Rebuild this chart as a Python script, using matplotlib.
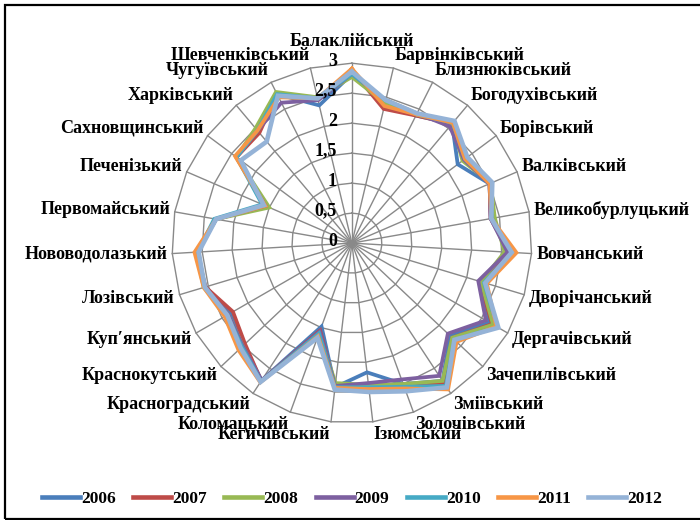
import numpy as np
import matplotlib
matplotlib.use("Agg")
import matplotlib.pyplot as plt
from matplotlib.transforms import offset_copy
from matplotlib.patches import Rectangle
from matplotlib.lines import Line2D

plt.rcParams['font.family'] = ['Liberation Serif', 'DejaVu Serif']
plt.rcParams['font.weight'] = 'bold'

# districts (clockwise from the top)
districts = ["Балаклійський", "Барвінківський", "Близнюківський", "Богодухівський",
             "Борівський", "Валківський", "Великобурлуцький", "Вовчанський",
             "Дворічанський", "Дергачівський", "Зачепилівський", "Зміївський",
             "Золочівський", "Ізюмський", "Кегичівський", "Коломацький",
             "Красноградський", "Краснокутський", "Куп\u2032янський", "Лозівський",
             "Нововодолазький", "Первомайський", "Печенізький", "Сахновщинський",
             "Харківський", "Чугуївський", "Шевченківський"]

years = ["2006", "2007", "2008", "2009", "2010", "2011", "2012"]

v2006 = [2.82, 2.40, 2.38, 2.60, 2.20, 2.50, 2.35, 2.65, 2.25, 2.65, 2.25, 2.75, 2.50, 2.17,
         2.42, 1.48, 2.74, 2.48, 2.33, 2.55, 2.58, 2.30, 1.57, 2.40, 2.45, 2.78, 2.36]
v2007 = [2.88, 2.30, 2.38, 2.60, 2.35, 2.50, 2.35, 2.62, 2.22, 2.70, 2.30, 2.80, 2.52, 2.40,
         2.42, 1.55, 2.75, 2.45, 2.29, 2.55, 2.60, 2.30, 1.57, 2.40, 2.40, 2.78, 2.45]
v2008 = [2.77, 2.40, 2.40, 2.60, 2.30, 2.52, 2.42, 2.55, 2.25, 2.72, 2.30, 2.75, 2.50, 2.38,
         2.35, 1.60, 2.76, 2.50, 2.38, 2.58, 2.60, 2.30, 1.50, 2.40, 2.50, 2.82, 2.50]
v2009 = [2.82, 2.45, 2.42, 2.54, 2.33, 2.50, 2.35, 2.60, 2.20, 2.58, 2.20, 2.65, 2.42, 2.35,
         2.40, 1.57, 2.74, 2.50, 2.38, 2.56, 2.60, 2.30, 1.57, 2.40, 2.45, 2.62, 2.45]
v2010 = [2.82, 2.45, 2.40, 2.62, 2.35, 2.52, 2.37, 2.68, 2.30, 2.80, 2.35, 2.85, 2.55, 2.42,
         2.42, 1.60, 2.76, 2.52, 2.40, 2.57, 2.58, 2.33, 1.63, 2.40, 2.45, 2.78, 2.48]
v2011 = [2.91, 2.35, 2.40, 2.62, 2.35, 2.50, 2.36, 2.75, 2.35, 2.78, 2.40, 2.92, 2.58, 2.45,
         2.43, 1.65, 2.78, 2.60, 2.45, 2.58, 2.63, 2.30, 1.57, 2.43, 2.45, 2.72, 2.48]
v2012 = [2.86, 2.45, 2.42, 2.66, 2.40, 2.55, 2.36, 2.67, 2.32, 2.82, 2.35, 2.88, 2.63, 2.50,
         2.46, 1.68, 2.77, 2.55, 2.40, 2.56, 2.56, 2.30, 1.60, 2.31, 2.21, 2.75, 2.48]

series = [v2006, v2007, v2008, v2009, v2010, v2011, v2012]
colors = ["#4a7ebb", "#be4b48", "#98b954", "#7d60a0", "#46aac5", "#f79646", "#95b3d7"]

ticks = [0, 0.5, 1, 1.5, 2, 2.5, 3]
tick_labels = ["0", "0,5", "1", "1,5", "2", "2,5", "3"]

n = len(districts)
ang = np.linspace(0, 2 * np.pi, n, endpoint=False)
ang_c = np.append(ang, ang[0])

fig = plt.figure(figsize=(7, 5.2), dpi=100)
ax = fig.add_axes([0.2457, 0.1865, 0.514, 0.692], projection='polar')
ax.set_theta_zero_location('N')
ax.set_theta_direction(-1)
ax.set_ylim(0, 3)
ax.grid(False)
ax.set_xticks([])
ax.set_yticks([])
ax.spines['polar'].set_visible(False)
ax.patch.set_alpha(0)

grid_c = "#898989"
# polygon rings and spokes
for t in ticks[1:]:
    ax.plot(ang_c, [t] * (n + 1), color=grid_c, lw=1.0, clip_on=False, zorder=1)
for a in ang:
    ax.plot([a, a], [0, 3], color=grid_c, lw=1.0, clip_on=False, zorder=1)

for vals, col, yr in zip(series, colors, years):
    lw = 3.3 if yr == "2012" else 2.7
    ax.plot(ang_c, vals + vals[:1], color=col, lw=lw, solid_joinstyle='miter',
            clip_on=False, zorder=3)

# value labels along the vertical axis
tr = offset_copy(ax.transData, fig=fig, x=-15, y=2, units='dots')
for t, lab in zip(ticks, tick_labels):
    ax.text(0, t, lab, transform=tr, ha='right', va='center', fontsize=13,
            fontweight='bold', zorder=5)

# district labels
for a, name in zip(ang, districts):
    s, c = np.sin(a), np.cos(a)
    if abs(s) < 0.05:
        ha = 'center'
        va = 'bottom' if c > 0 else 'top'
        dy = 8 if c > 0 else -4
    else:
        ha = 'left' if s > 0 else 'right'
        va = 'center'
        dy = 8 * c
    trl = offset_copy(ax.transData, fig=fig, x=0, y=dy, units='dots')
    ax.text(a, 3.08, name, transform=trl, ha=ha, va=va, fontsize=13,
            fontweight='bold', clip_on=False)

handles = [Line2D([0], [0], color=c, lw=3.3) for c in colors]
fig.legend(handles, years, loc='center', bbox_to_anchor=(0.503, 0.040), ncol=7,
           frameon=False, handlelength=2.2, handletextpad=0.05, columnspacing=1.0,
           prop={'family': 'Liberation Serif', 'weight': 'bold', 'size': 12.5})

# outer frame
fig.patches.append(Rectangle((5 / 700, 1 / 520), 2.0, 514 / 520, transform=fig.transFigure,
                             fill=False, edgecolor='black', lw=1.6))

fig.savefig("out.png", dpi=100)
